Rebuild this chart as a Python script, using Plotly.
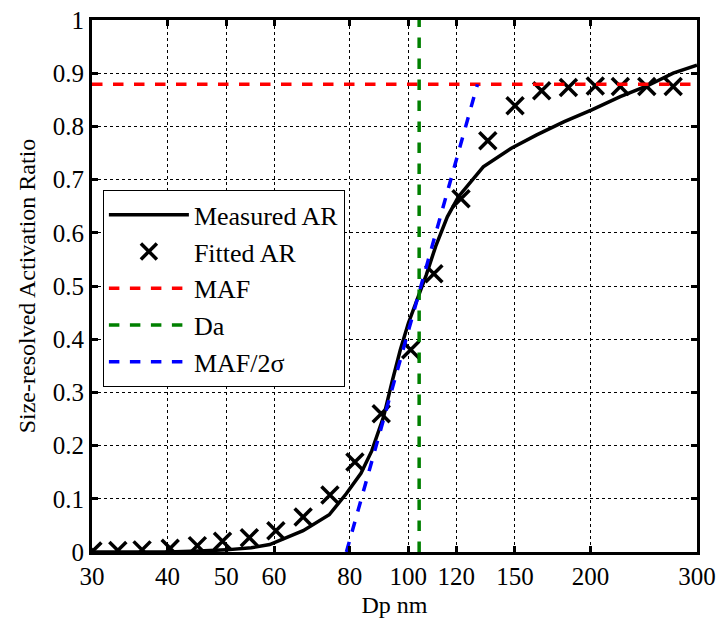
import plotly.graph_objects as go

# Measured AR (solid line)
meas_dp = [30, 40, 45, 50, 55, 59, 67, 74, 79, 83.5, 87, 91, 94, 97, 100, 103, 107, 111, 116, 121, 133, 148, 163, 181, 201, 224, 248, 274, 300]
meas_ar = [0.0, 0.0, 0.002, 0.004, 0.008, 0.014, 0.04, 0.07, 0.11, 0.148, 0.19, 0.254, 0.32, 0.38, 0.43, 0.47, 0.52, 0.575, 0.63, 0.668, 0.724, 0.759, 0.784, 0.809, 0.831, 0.856, 0.876, 0.9, 0.915]

# Fitted AR (x markers)
fit_dp = [30.1, 33.1, 36.3, 40.4, 44.8, 49.3, 54.6, 60.4, 67, 74.2, 81.6, 90.2, 100.9, 110.2, 122.2, 135.3, 150.1, 166.1, 183.9, 203.7, 224.1, 247.8, 274]
fit_ar = [0.002, 0.003, 0.004, 0.007, 0.012, 0.02, 0.027, 0.04, 0.066, 0.107, 0.169, 0.26, 0.38, 0.523, 0.664, 0.773, 0.839, 0.867, 0.873, 0.876, 0.875, 0.875, 0.875]

MAF = 0.879
DA = 104.2
slope_dp = [79.0, 130.1]
slope_ar = [0.0, MAF]

x_ticks = [30, 40, 50, 60, 80, 100, 120, 150, 200, 300]
y_ticks = [0, 0.1, 0.2, 0.3, 0.4, 0.5, 0.6, 0.7, 0.8, 0.9, 1]
y_labels = ["0", "0.1", "0.2", "0.3", "0.4", "0.5", "0.6", "0.7", "0.8", "0.9", "1"]

FONT = "Liberation Serif, Times New Roman, serif"

fig = go.Figure()
fig.add_trace(go.Scatter(x=meas_dp, y=meas_ar, mode="lines", name="Measured AR",
                         line=dict(color="black", width=3.5)))
fig.add_trace(go.Scatter(x=fit_dp, y=fit_ar, mode="markers", name="Fitted AR",
                         marker=dict(symbol="x-thin", size=17, color="black",
                                     line=dict(color="black", width=3.5))))
fig.add_trace(go.Scatter(x=[30, 300], y=[MAF, MAF], mode="lines", name="MAF",
                         line=dict(color="#ff0000", width=3.5, dash="dash")))
fig.add_trace(go.Scatter(x=[DA, DA], y=[0, 1], mode="lines", name="Da",
                         line=dict(color="#008000", width=3.5, dash="dash")))
fig.add_trace(go.Scatter(x=slope_dp, y=slope_ar, mode="lines", name="MAF/2σ",
                         line=dict(color="#0000ff", width=3.5, dash="dash")))

axis_common = dict(
    showline=True, linecolor="black", linewidth=3, mirror="ticks",
    ticks="inside", ticklen=6, tickwidth=3, tickcolor="black",
    showgrid=True, gridcolor="black", gridwidth=1, griddash="dot",
    zeroline=False, automargin=False, ticklabeloverflow="allow",
    tickfont=dict(family=FONT, size=25, color="black"),
)

fig.update_xaxes(type="log", range=[1.47712, 2.47712], tickvals=x_ticks,
                 ticktext=[str(v) for v in x_ticks],
                 title=dict(text="Dp nm", font=dict(family=FONT, size=24, color="black"), standoff=8),
                 **axis_common)
fig.update_yaxes(range=[0, 1], tickvals=y_ticks, ticktext=y_labels,
                 title=dict(text="Size-resolved Activation Ratio", font=dict(family=FONT, size=24, color="black"), standoff=11),
                 **axis_common)

fig.update_layout(
    width=716, height=618,
    margin=dict(l=84, r=27, t=12, b=74),
    plot_bgcolor="white", paper_bgcolor="white",
    font=dict(family=FONT, size=24, color="black"),
    showlegend=True,
    legend=dict(x=0.018, y=0.68, xanchor="left", yanchor="top",
                bgcolor="white", bordercolor="black", borderwidth=1,
                font=dict(family=FONT, size=26, color="black"),
                itemwidth=80, tracegroupgap=0),
)

fig.write_html("out.html")
